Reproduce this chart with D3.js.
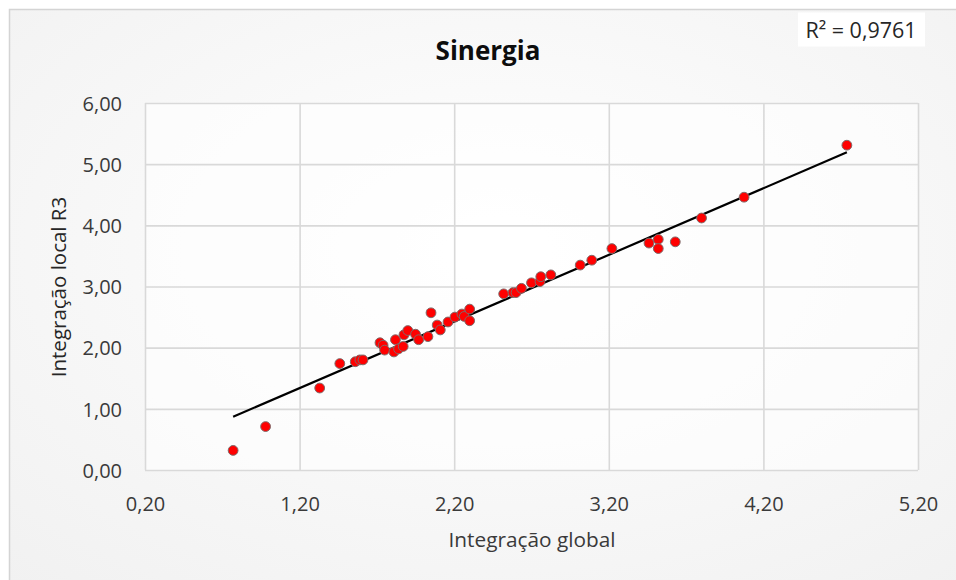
<!DOCTYPE html>
<html>
<head>
<meta charset="utf-8">
<script src="https://cdn.jsdelivr.net/npm/d3@7"></script>
<style>
  html, body { margin: 0; padding: 0; background: #ffffff; }
  svg { display: block; font-family: "Open Sans", "Liberation Sans", sans-serif; }
</style>
</head>
<body>
<svg id="chart" width="956" height="580"></svg>
<script>
// ---- data ----
const chartTitle = "Sinergia";
const xAxisTitle = "Integração global";
const yAxisTitle = "Integração local R3";
const r2Label = "R² = 0,9761";

const xValues = [0.77, 0.98, 1.33, 1.46, 1.56, 1.59, 1.61, 1.72, 1.74, 1.75, 1.81, 1.82, 1.84, 1.87, 1.875, 1.90, 1.95, 1.97, 2.03, 2.05, 2.09, 2.11, 2.16, 2.205, 2.25, 2.265, 2.30, 2.30, 2.52, 2.58, 2.60, 2.635, 2.70, 2.755, 2.76, 2.825, 3.015, 3.09, 3.22, 3.46, 3.52, 3.52, 3.63, 3.80, 4.075, 4.74];
const yValues = [0.32, 0.71, 1.34, 1.74, 1.77, 1.80, 1.80, 2.08, 2.04, 1.96, 1.93, 2.13, 1.98, 2.02, 2.21, 2.28, 2.22, 2.13, 2.18, 2.57, 2.37, 2.29, 2.42, 2.50, 2.55, 2.51, 2.63, 2.44, 2.88, 2.90, 2.90, 2.97, 3.06, 3.08, 3.16, 3.19, 3.35, 3.43, 3.62, 3.71, 3.77, 3.62, 3.73, 4.12, 4.46, 5.31];

const xTicks = [0.2, 1.2, 2.2, 3.2, 4.2, 5.2];
const yTicks = [0, 1, 2, 3, 4, 5, 6];

// linear trendline
const trendSlope = 1.089;
const trendIntercept = 0.032;

// ---- layout ----
const svg = d3.select("#chart");
const W = 956, H = 580;
const plot = { left: 145, right: 918, top: 103, bottom: 470 };

const fmt = v => d3.format(".2f")(v).replace(".", ",");

// background with soft radial gradient
const defs = svg.append("defs");
const grad = defs.append("radialGradient").attr("id", "bg")
  .attr("cx", "50%").attr("cy", "40%").attr("r", "75%");
grad.append("stop").attr("offset", "0%").attr("stop-color", "#ffffff");
grad.append("stop").attr("offset", "100%").attr("stop-color", "#f1f1f1");

svg.append("rect").attr("x", 0).attr("y", 0).attr("width", W).attr("height", H).attr("fill", "#ffffff");
svg.append("rect").attr("x", 9.5).attr("y", 9.5).attr("width", W + 20).attr("height", H + 20)
  .attr("fill", "url(#bg)").attr("stroke", "#d4d4d4").attr("stroke-width", 1.5);

// plot area background
svg.append("rect").attr("x", plot.left).attr("y", plot.top)
  .attr("width", plot.right - plot.left).attr("height", plot.bottom - plot.top)
  .attr("fill", "#ffffff").attr("fill-opacity", 0.6);

const x = d3.scaleLinear().domain([0.2, 5.2]).range([plot.left, plot.right]);
const y = d3.scaleLinear().domain([0, 6]).range([plot.bottom, plot.top]);

// gridlines
const gx = svg.append("g").attr("transform", `translate(0,${plot.bottom})`)
  .call(d3.axisBottom(x).tickValues(xTicks).tickSize(-(plot.bottom - plot.top)).tickFormat(""));
const gy = svg.append("g").attr("transform", `translate(${plot.left},0)`)
  .call(d3.axisLeft(y).tickValues(yTicks).tickSize(-(plot.right - plot.left)).tickFormat(""));
[gx, gy].forEach(g => {
  g.select(".domain").remove();
  g.selectAll("line").attr("stroke", "#d9d9d9").attr("stroke-width", 1.6);
});

// tick labels
const ax = svg.append("g").attr("transform", `translate(0,${plot.bottom})`)
  .call(d3.axisBottom(x).tickValues(xTicks).tickSize(0).tickPadding(27).tickFormat(fmt));
const ay = svg.append("g").attr("transform", `translate(${plot.left},0)`)
  .call(d3.axisLeft(y).tickValues(yTicks).tickSize(0).tickPadding(23).tickFormat(fmt));
[ax, ay].forEach(g => {
  g.select(".domain").remove();
  g.selectAll("text").attr("font-size", 20).attr("fill", "#3a3a3a")
    .attr("font-family", "'Open Sans', sans-serif");
});
ay.selectAll("text").attr("dy", "0.36em");

// trendline
const xMin = d3.min(xValues), xMax = d3.max(xValues);
const trend = [xMin, xMax].map(v => [v, trendSlope * v + trendIntercept]);
svg.append("path")
  .attr("d", d3.line().x(d => x(d[0])).y(d => y(d[1]))(trend))
  .attr("fill", "none").attr("stroke", "#000000").attr("stroke-width", 2.2);

// points
const pts = xValues.map((v, i) => ({ x: v, y: yValues[i] }));
svg.append("g").selectAll("circle").data(pts).join("circle")
  .attr("cx", d => x(d.x)).attr("cy", d => y(d.y)).attr("r", 4.9)
  .attr("fill", "#ff0000").attr("stroke", "#7f6a6a").attr("stroke-width", 1);

// title
svg.append("text").attr("x", 488).attr("y", 59.5).attr("text-anchor", "middle")
  .attr("font-size", 26).attr("font-weight", "bold").attr("fill", "#0d0d0d")
  .text(chartTitle);

// axis titles
svg.append("text").attr("x", 532).attr("y", 547).attr("text-anchor", "middle")
  .attr("font-size", 20.8).attr("fill", "#3a3a3a").text(xAxisTitle);
svg.append("text").attr("transform", "translate(66,287) rotate(-90)").attr("text-anchor", "middle")
  .attr("font-size", 20.5).attr("fill", "#262626").text(yAxisTitle);

// R² label box
svg.append("rect").attr("x", 798).attr("y", 12.5).attr("width", 127).attr("height", 34).attr("fill", "#ffffff");
svg.append("text").attr("x", 861).attr("y", 37.5).attr("text-anchor", "middle")
  .attr("font-size", 21.5).attr("fill", "#262626").text(r2Label);
</script>
</body>
</html>
